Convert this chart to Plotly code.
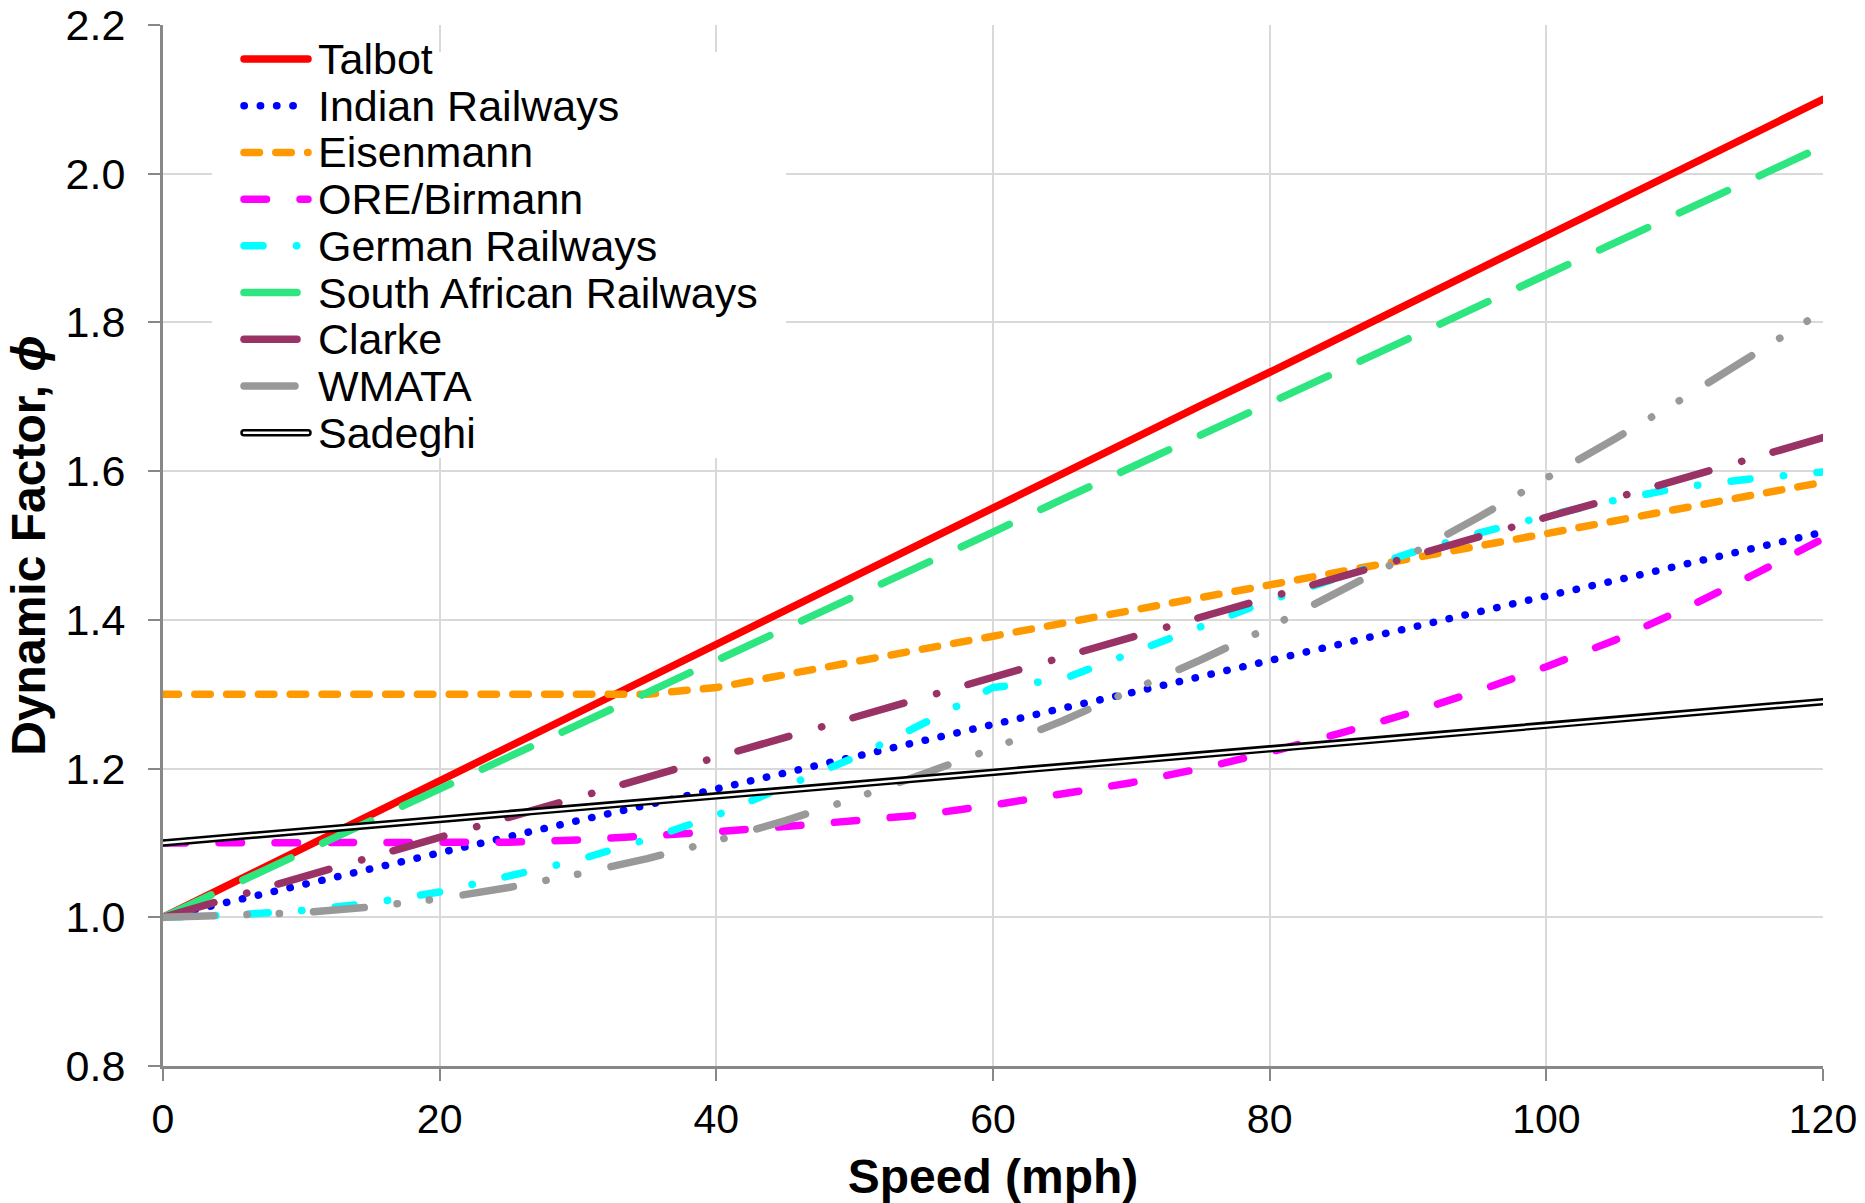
import plotly.graph_objects as go

# ---------------- data ----------------
SPEED = [0, 5, 10, 15, 20, 25, 30, 35, 40, 45, 50, 55, 60,
         65, 70, 75, 80, 85, 90, 95, 100, 105, 110, 115, 120]

TALBOT = [1.000, 1.046, 1.092, 1.138, 1.183, 1.229, 1.275, 1.321, 1.367, 1.413, 1.458, 1.504, 1.550,
          1.596, 1.642, 1.688, 1.733, 1.779, 1.825, 1.871, 1.917, 1.963, 2.008, 2.054, 2.100]
INDIAN = [1.000, 1.022, 1.043, 1.065, 1.086, 1.108, 1.130, 1.151, 1.173, 1.194, 1.216, 1.237, 1.259,
          1.281, 1.302, 1.324, 1.345, 1.367, 1.389, 1.410, 1.432, 1.453, 1.475, 1.496, 1.518]
EISENMANN = [1.300, 1.300, 1.300, 1.300, 1.300, 1.300, 1.300, 1.300, 1.309, 1.327, 1.344, 1.361, 1.378,
             1.396, 1.413, 1.430, 1.447, 1.465, 1.482, 1.499, 1.516, 1.534, 1.551, 1.568, 1.585]
ORE_BIRMANN = [1.100, 1.100, 1.100, 1.100, 1.100, 1.101, 1.104, 1.109, 1.115, 1.122, 1.129, 1.138, 1.151,
               1.165, 1.181, 1.200, 1.222, 1.247, 1.274, 1.304, 1.337, 1.373, 1.415, 1.461, 1.509]
GERMAN = [1.000, 1.003, 1.009, 1.019, 1.034, 1.055, 1.077, 1.105, 1.137, 1.176, 1.215, 1.261, 1.309,
          1.320, 1.355, 1.390, 1.426, 1.457, 1.489, 1.516, 1.540, 1.561, 1.579, 1.590, 1.599]
SOUTH_AFRICAN = [1.000, 1.043, 1.086, 1.130, 1.173, 1.216, 1.259, 1.302, 1.346, 1.389, 1.432, 1.475, 1.518,
                 1.562, 1.605, 1.648, 1.691, 1.734, 1.778, 1.821, 1.864, 1.907, 1.950, 1.994, 2.037]
CLARKE = [1.000, 1.027, 1.054, 1.081, 1.108, 1.134, 1.161, 1.188, 1.215, 1.242, 1.269, 1.296, 1.323,
          1.349, 1.376, 1.403, 1.430, 1.457, 1.484, 1.511, 1.538, 1.564, 1.591, 1.618, 1.645]
WMATA = [1.000, 1.002, 1.006, 1.014, 1.025, 1.040, 1.058, 1.079, 1.103, 1.130, 1.160, 1.193, 1.227,
         1.264, 1.304, 1.346, 1.390, 1.437, 1.486, 1.537, 1.590, 1.644, 1.699, 1.756, 1.815]
SADEGHI = [1.100, 1.108, 1.116, 1.124, 1.132, 1.140, 1.148, 1.155, 1.163, 1.171, 1.179, 1.187, 1.195,
           1.203, 1.211, 1.219, 1.227, 1.235, 1.243, 1.250, 1.258, 1.266, 1.274, 1.282, 1.290]

NAMES = ["Talbot", "Indian Railways", "Eisenmann", "ORE/Birmann", "German Railways",
         "South African Railways", "Clarke", "WMATA", "Sadeghi"]
VALUES = [TALBOT, INDIAN, EISENMANN, ORE_BIRMANN, GERMAN, SOUTH_AFRICAN, CLARKE, WMATA, SADEGHI]

X_TICKS = [0, 20, 40, 60, 80, 100, 120]
Y_TICKS = [0.8, 1.0, 1.2, 1.4, 1.6, 1.8, 2.0, 2.2]

# ---------------- styles ----------------
COLORS = ["#FF0000", "#0000FF", "#FF9900", "#FF00FF", "#00FFFF",
          "#2DE680", "#993366", "#999999", "#000000"]
DASHES = ["solid",
          "0.3px,16px",
          "15.5px,16.3px",
          "22.5px,33.5px",
          "19px,33.5px,0.3px,33.5px",
          "53px,35px",
          "53px,34px,0.3px,32.4px",
          "51px,33px,0.3px,32px,0.3px,34px",
          "solid"]
LW = 7.5
FONT = "Liberation Sans, Arial, sans-serif"

W, H = 1865, 1203
ML, MR, MT, MB = 163, 42, 25, 137
PW, PH = W - ML - MR, H - MT - MB


def px_x(px):
    return (px - ML) / PW


def px_y(py):
    return (H - MB - py) / PH


fig = go.Figure()
for name, vals, col, dash in zip(NAMES, VALUES, COLORS, DASHES):
    fig.add_trace(go.Scatter(x=SPEED, y=vals, mode="lines", name=name,
                             line=dict(color=col, width=LW, dash=dash),
                             showlegend=False, hoverinfo="skip"))
# Sadeghi is a double line: white core on top of the black line
fig.add_trace(go.Scatter(x=SPEED, y=SADEGHI, mode="lines", name="Sadeghi core",
                         line=dict(color="#FFFFFF", width=2.5),
                         showlegend=False, hoverinfo="skip"))

# ---------------- legend (drawn in the upper-left like the original) ----------------
shapes = [dict(type="rect", xref="paper", yref="paper", layer="above",
               x0=px_x(212), x1=px_x(786), y0=px_y(458), y1=px_y(52),
               fillcolor="white", line=dict(width=0))]
annotations = []
ROW0, ROWSTEP = 59, 46.71
for i, (name, col, dash) in enumerate(zip(NAMES, COLORS, DASHES)):
    yy = px_y(ROW0 + ROWSTEP * i)
    shapes.append(dict(type="line", xref="paper", yref="paper", layer="above",
                       x0=px_x(244), x1=px_x(308), y0=yy, y1=yy,
                       line=dict(color=col, width=LW, dash=dash)))
    if name == "Sadeghi":
        shapes.append(dict(type="line", xref="paper", yref="paper", layer="above",
                           x0=px_x(244), x1=px_x(308), y0=yy, y1=yy,
                           line=dict(color="#FFFFFF", width=2.5)))
    annotations.append(dict(xref="paper", yref="paper", x=px_x(316), y=yy,
                            xanchor="left", yanchor="middle", showarrow=False,
                            text=name, font=dict(family=FONT, size=43, color="black")))

fig.update_layout(
    width=W, height=H,
    margin=dict(l=ML, r=MR, t=MT, b=MB, autoexpand=False),
    paper_bgcolor="white", plot_bgcolor="white",
    font=dict(family=FONT, color="black"),
    showlegend=False,
    shapes=shapes,
    annotations=annotations,
    xaxis=dict(range=[0, 120], tickvals=X_TICKS, ticktext=[str(v) for v in X_TICKS],
               automargin=False,
               showgrid=True, gridcolor="#D9D9D9", gridwidth=2,
               showline=True, linecolor="#888888", linewidth=3,
               ticks="outside", ticklen=12, tickwidth=2, tickcolor="#888888",
               tickfont=dict(family=FONT, size=41, color="black"),
               ticklabelstandoff=3,
               zeroline=False,
               title=dict(text="Speed (mph)", standoff=23,
                          font=dict(family=FONT, size=48, color="black", weight="bold"))),
    yaxis=dict(range=[0.8, 2.2], tickvals=Y_TICKS, tickformat=".1f",
               automargin=False,
               showgrid=True, gridcolor="#D9D9D9", gridwidth=2,
               showline=True, linecolor="#888888", linewidth=3,
               ticks="outside", ticklen=12, tickwidth=2, tickcolor="#888888",
               tickfont=dict(family=FONT, size=43, color="black"),
               ticklabelstandoff=14,
               zeroline=False,
               title=dict(text="Dynamic Factor, <i>ϕ</i>", standoff=5,
                          font=dict(family=FONT, size=48, color="black", weight="bold"))),
)

ROUND_CAPS = ("var s=document.createElement('style');"
              "s.textContent='.scatterlayer path.js-line, .shapelayer path"
              "{stroke-linecap:round;stroke-linejoin:round;}';"
              "document.head.appendChild(s);")

fig.write_html("out.html", post_script=ROUND_CAPS)
